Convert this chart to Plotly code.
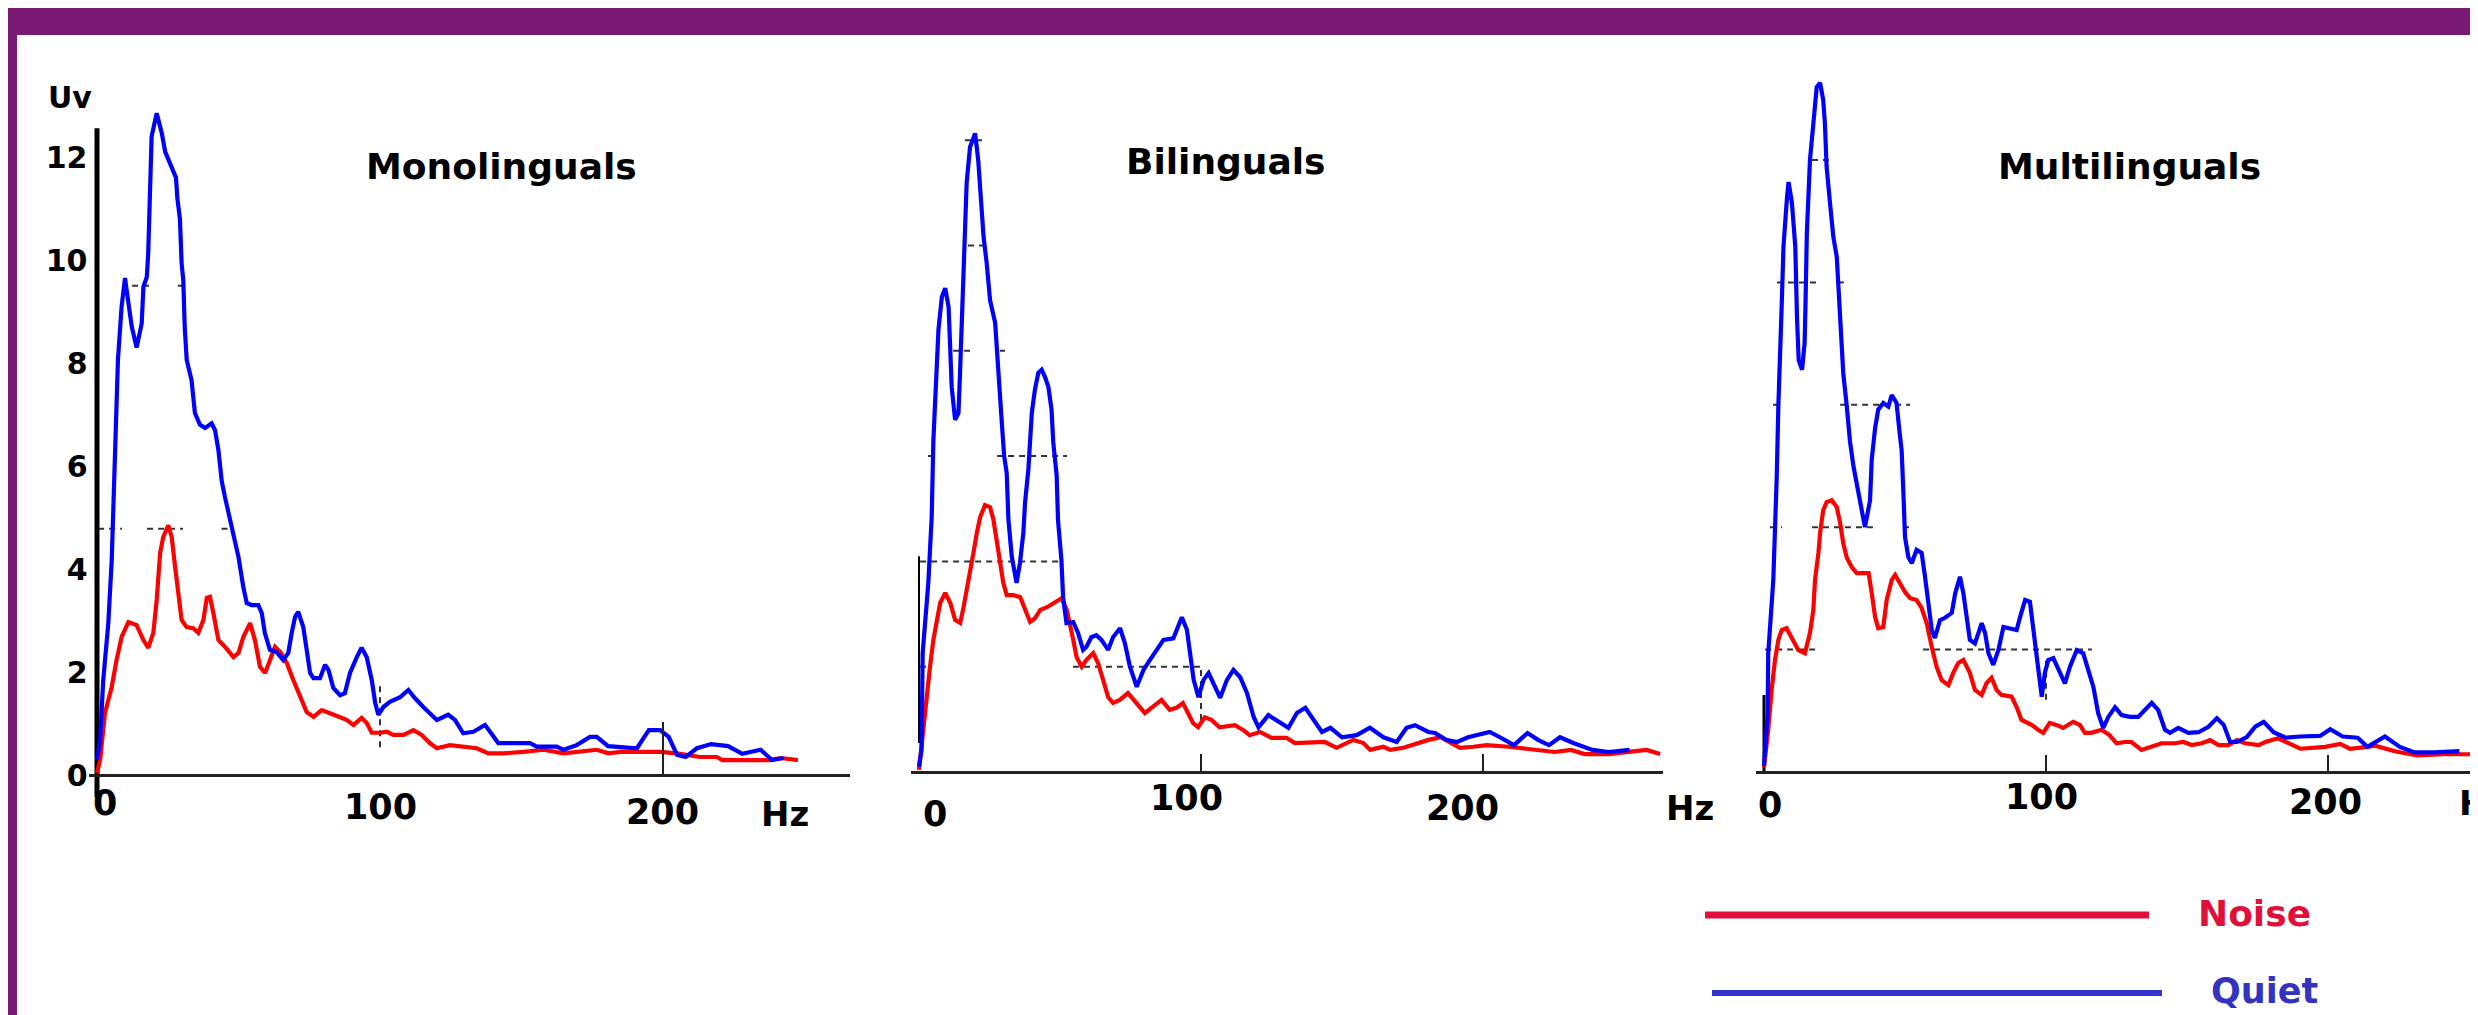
import plotly.graph_objects as go

# ---- data (Hz vs Uv) ----
mono_quiet_hz = [0, 1.1, 2.2, 4.0, 5.2, 6.0, 7.0, 7.4, 8.7, 9.9, 10.3, 12.3, 14.0, 15.8, 16.4, 17.6, 18.1, 18.7,
                 19.3, 21.1, 22.9, 24.1, 26.4, 27.9, 28.4, 29.3, 29.9, 30.5, 31.0, 31.7, 33.4, 34.6, 36.4, 38.2,
                 40.5, 41.7, 42.9, 44.1, 45.2, 46.4, 48.2, 50.0, 51.7, 52.9, 54.6, 57.0, 58.2, 59.3, 61.1, 63.4,
                 65.8, 67.6, 68.8, 70.0, 71.1, 72.9, 74.1, 75.3, 76.5, 78.8, 80.6, 81.8, 83.5, 85.9, 87.6, 89.4,
                 91.8, 93.5, 95.3, 97.1, 98.3, 99.4, 101.2, 103.5, 107.1, 110.0, 112.4, 115.3, 120.1, 124.1,
                 126.5, 129.4, 133.0, 137.1, 138.9, 141.8, 145.9, 153.0, 155.4, 162.4, 164.8, 169.5, 174.2,
                 176.6, 180.6, 190.8, 195.0, 199.0, 202.0, 205.0, 208.0, 212.0, 217.0, 223.0, 228.0, 234.5,
                 238.5, 242.6]
mono_quiet_uv = [0.3, 0.68, 1.84, 2.95, 4.17, 5.5, 7.03, 8.06, 9.1, 9.65, 9.48, 8.7, 8.3, 8.77, 9.48, 9.67, 10.13,
                 11.36, 12.4, 12.85, 12.46, 12.1, 11.8, 11.6, 11.2, 10.8, 9.94, 9.6, 8.7, 8.06, 7.67, 7.03, 6.8,
                 6.74, 6.83, 6.7, 6.31, 5.7, 5.4, 5.09, 4.7, 4.23, 3.65, 3.34, 3.3, 3.3, 3.15, 2.76, 2.43, 2.39,
                 2.23, 2.37, 2.76, 3.07, 3.17, 2.87, 2.43, 1.98, 1.88, 1.88, 2.14, 2.04, 1.69, 1.55, 1.59, 1.98,
                 2.29, 2.47, 2.29, 1.84, 1.4, 1.17, 1.32, 1.42, 1.51, 1.65, 1.49, 1.32, 1.07, 1.17, 1.07, 0.81,
                 0.84, 0.97, 0.84, 0.62, 0.62, 0.62, 0.55, 0.55, 0.49, 0.58, 0.74, 0.74, 0.56, 0.52, 0.87, 0.87,
                 0.74, 0.39, 0.35, 0.52, 0.6, 0.56, 0.41, 0.49, 0.29, 0.33]

mono_noise_hz = [0, 1.1, 2.8, 5.2, 6.9, 8.7, 11.1, 14.0, 16.4, 18.1, 19.9, 21.1, 22.3, 23.4, 25.2, 26.4, 27.6,
                 28.7, 29.9, 31.7, 34.0, 35.8, 37.6, 38.8, 39.9, 41.1, 42.9, 45.2, 48.2, 50.0, 51.7, 54.1, 55.8,
                 57.6, 59.4, 61.1, 62.9, 64.7, 67.1, 69.4, 71.8, 74.1, 76.5, 79.4, 82.3, 85.3, 88.2, 90.6, 93.5,
                 95.3, 97.1, 100.0, 102.4, 104.7, 108.3, 111.8, 114.7, 117.6, 120.1, 124.7, 129.4, 134.2, 138.3,
                 143.6, 150.7, 157.8, 164.8, 169.5, 176.6, 180.7, 185.0, 199.0, 205.0, 213.0, 219.0, 221.0,
                 237.5, 241.6, 247.7]
mono_noise_uv = [0.04, 0.29, 1.2, 1.71, 2.23, 2.68, 2.97, 2.91, 2.62, 2.47, 2.76, 3.4, 4.31, 4.62, 4.85, 4.62, 4.04,
                 3.53, 3.01, 2.87, 2.85, 2.76, 3.01, 3.44, 3.46, 3.15, 2.62, 2.49, 2.29, 2.37, 2.68, 2.95, 2.62,
                 2.1, 1.98, 2.23, 2.49, 2.39, 2.17, 1.84, 1.51, 1.22, 1.13, 1.26, 1.2, 1.13, 1.07, 0.97, 1.11,
                 1.01, 0.82, 0.82, 0.84, 0.78, 0.78, 0.87, 0.78, 0.62, 0.52, 0.58, 0.55, 0.52, 0.42, 0.42, 0.45,
                 0.49, 0.42, 0.45, 0.49, 0.42, 0.45, 0.45, 0.42, 0.35, 0.35, 0.29, 0.29, 0.33, 0.29]

bi_quiet_hz = [0, 0.9, 1.1, 1.3, 3.3, 4.5, 5.1, 6.3, 6.9, 8.1, 9.3, 10.5, 11.1, 11.6, 12.8, 14.0, 14.5, 15.1, 15.7,
               16.9, 18.1, 19.9, 21.0, 21.9, 22.9, 24.0, 25.2, 27.0, 28.1, 29.3, 30.2, 31.1, 31.7, 32.9, 34.6, 35.8,
               37.0, 37.6, 38.8, 40.0, 41.1, 42.3, 43.5, 44.7, 45.9, 47.0, 47.6, 48.8, 49.3, 50.5, 51.1, 52.3,
               54.7, 56.4, 58.2, 59.4, 61.1, 62.9, 64.7, 67.1, 68.8, 71.3, 73.0, 74.8, 77.2, 79.6, 81.9, 84.9,
               86.7, 90.2, 91.4, 93.2, 95.0, 96.2, 97.4, 99.1, 100.9, 102.7, 104.5, 106.8, 109.2, 111.5, 113.9,
               116.3, 118.7, 120.4, 123.9, 127.5, 131.0, 134.0, 137.0, 139.3, 142.9, 145.9, 150.0, 155.2, 159.9,
               164.7, 169.4, 172.9, 175.9, 180.6, 183.0, 186.9, 190.8, 194.7, 202.4, 206.0, 211.0, 215.8, 219.5,
               223.4, 227.3, 232.0, 238.8, 244.6, 252.0]
bi_quiet_uv = [0.1, 0.42, 1.37, 2.26, 3.59, 4.84, 6.3, 7.58, 8.4, 9.02, 9.19, 8.83, 8.2, 7.31, 6.69, 6.82, 7.5, 8.45,
               9.86, 11.19, 11.87, 12.13, 11.62, 10.86, 10.16, 9.67, 8.96, 8.53, 7.5, 6.69, 6.0, 5.68, 4.8, 4.09,
               3.59, 3.97, 4.54, 5.11, 5.76, 6.82, 7.26, 7.58, 7.64, 7.5, 7.31, 6.88, 6.27, 5.64, 4.78, 4.03, 3.32,
               2.83, 2.85, 2.64, 2.32, 2.38, 2.56, 2.6, 2.51, 2.32, 2.56, 2.73, 2.45, 2.0, 1.62, 1.94, 2.13, 2.38,
               2.51, 2.54, 2.7, 2.94, 2.7, 2.26, 1.75, 1.42, 1.75, 1.88, 1.69, 1.41, 1.75, 1.94, 1.8, 1.5, 1.04,
               0.85, 1.08, 0.95, 0.84, 1.12, 1.22, 1.04, 0.76, 0.84, 0.66, 0.7, 0.84, 0.66, 0.57, 0.84, 0.89, 0.76,
               0.74, 0.61, 0.57, 0.66, 0.76, 0.66, 0.51, 0.74, 0.61, 0.51, 0.66, 0.55, 0.42, 0.38, 0.42]

bi_noise_hz = [0, 1.1, 2.7, 3.9, 5.1, 6.3, 7.5, 9.3, 11.1, 12.8, 14.6, 15.8, 17.0, 18.1, 19.3, 20.5, 21.7, 23.4,
               25.2, 26.4, 27.6, 28.8, 29.9, 31.1, 33.5, 35.9, 37.6, 39.4, 41.1, 43.0, 45.4, 47.7, 50.6, 52.4, 53.5,
               54.7, 55.9, 57.7, 59.4, 61.8, 63.5, 65.3, 67.1, 68.8, 71.2, 74.1, 77.1, 80.1, 83.0, 86.0, 88.9,
               91.3, 93.6, 95.4, 97.2, 99.0, 101.3, 103.7, 106.6, 112.0, 114.9, 117.3, 120.9, 125.0, 130.3, 133.3,
               139.8, 143.9, 148.1, 154.0, 157.6, 160.0, 164.7, 167.1, 171.8, 176.6, 180.7, 185.0, 188.9, 191.8,
               196.6, 201.4, 209.0, 217.7, 225.4, 231.2, 236.0, 244.6, 253.2, 258.0, 262.8]
bi_noise_uv = [0.04, 0.61, 1.5, 2.0, 2.51, 2.83, 3.21, 3.4, 3.21, 2.89, 2.83, 3.13, 3.46, 3.78, 4.16, 4.54, 4.84,
               5.07, 5.03, 4.79, 4.41, 3.97, 3.59, 3.36, 3.36, 3.32, 3.11, 2.85, 2.92, 3.08, 3.13, 3.21, 3.3, 3.08,
               2.83, 2.51, 2.18, 2.0, 2.13, 2.26, 2.07, 1.75, 1.42, 1.31, 1.37, 1.5, 1.31, 1.12, 1.24, 1.37, 1.18,
               1.22, 1.31, 1.12, 0.93, 0.85, 1.04, 0.99, 0.85, 0.89, 0.8, 0.7, 0.76, 0.65, 0.65, 0.55, 0.55, 0.57,
               0.46, 0.61, 0.55, 0.42, 0.48, 0.42, 0.46, 0.55, 0.61, 0.66, 0.55, 0.46, 0.48, 0.51, 0.48, 0.42,
               0.38, 0.42, 0.34, 0.34, 0.38, 0.42, 0.34]

multi_quiet_hz = [0, 0.4, 1.3, 1.5, 3.3, 4.5, 5.1, 6.3, 6.9, 8.1, 8.7, 9.9, 11.1, 11.7, 12.3, 13.5, 14.4, 14.7,
                  15.2, 16.3, 17.5, 18.7, 19.9, 21.0, 21.6, 22.2, 23.4, 24.6, 25.8, 26.95, 28.1, 29.3, 30.5, 31.7,
                  32.9, 34.6, 35.8, 37.6, 38.2, 39.4, 40.5, 42.3, 44.1, 45.3, 47.0, 48.2, 48.8, 49.4, 50.0, 51.2,
                  52.4, 54.1, 55.9, 57.1, 58.3, 59.5, 60.6, 62.4, 64.2, 66.6, 67.8, 69.5, 70.7, 71.9, 73.0, 74.8,
                  77.2, 78.4, 79.6, 81.3, 83.1, 84.9, 87.2, 89.6, 90.8, 92.6, 94.3, 95.5, 96.7, 97.9, 98.5, 99.6,
                  100.8, 102.6, 104.4, 106.7, 108.5, 110.9, 113.2, 115.0, 116.8, 118.5, 120.3, 122.1, 124.5, 126.8,
                  129.8, 132.7, 135.1, 137.5, 139.8, 142.2, 144.0, 146.9, 150.5, 154.1, 157.6, 160.6, 163.0, 165.3,
                  167.7, 171.2, 174.2, 177.2, 180.7, 185.0, 190.2, 197.2, 200.8, 205.2, 210.5, 214.0, 220.2, 225.5,
                  230.7, 237.8, 246.6]
multi_quiet_uv = [0.1, 0.36, 0.96, 1.94, 3.14, 4.8, 6.0, 7.66, 8.58, 9.35, 9.64, 9.3, 8.58, 7.43, 6.73, 6.57, 7.01,
                  7.6, 8.81, 10.0, 10.7, 11.19, 11.26, 10.98, 10.6, 9.89, 9.3, 8.74, 8.42, 7.34, 6.52, 6.0, 5.4,
                  5.0, 4.7, 4.28, 4.0, 4.44, 5.1, 5.62, 5.92, 6.03, 5.97, 6.16, 6.03, 5.5, 5.26, 4.6, 3.84, 3.51,
                  3.41, 3.63, 3.58, 3.19, 2.7, 2.32, 2.19, 2.48, 2.52, 2.6, 2.92, 3.19, 2.92, 2.48, 2.16, 2.1, 2.43,
                  2.27, 1.94, 1.75, 1.99, 2.37, 2.35, 2.32, 2.53, 2.81, 2.78, 2.37, 1.94, 1.55, 1.23, 1.62, 1.83,
                  1.86, 1.67, 1.45, 1.72, 1.99, 1.94, 1.67, 1.39, 0.96, 0.72, 0.9, 1.06, 0.93, 0.9, 0.9, 1.01, 1.13,
                  1.01, 0.69, 0.64, 0.72, 0.64, 0.65, 0.74, 0.88, 0.77, 0.49, 0.49, 0.57, 0.74, 0.82, 0.65, 0.56,
                  0.58, 0.59, 0.7, 0.58, 0.56, 0.41, 0.58, 0.41, 0.32, 0.32, 0.34]

multi_noise_hz = [0, 1.5, 2.7, 3.9, 5.1, 6.3, 8.0, 9.8, 12.2, 14.5, 16.3, 17.5, 18.1, 19.3, 19.9, 21.0, 22.2, 24.0,
                  25.8, 27.0, 28.1, 29.3, 31.1, 32.9, 35.3, 37.1, 38.2, 39.4, 40.5, 42.3, 43.5, 45.3, 46.5, 48.2,
                  50.0, 51.8, 54.1, 55.9, 57.7, 59.5, 61.2, 63.0, 65.4, 67.1, 68.9, 70.7, 73.0, 74.8, 77.2, 78.9,
                  80.7, 82.5, 84.2, 87.8, 89.6, 91.3, 94.9, 97.2, 99.0, 101.3, 103.7, 106.1, 109.6, 112.0, 113.8,
                  116.1, 119.7, 122.6, 125.0, 128.0, 130.3, 133.9, 137.5, 141.0, 145.7, 148.7, 151.7, 155.2, 158.2,
                  161.2, 164.7, 167.7, 170.6, 175.4, 177.8, 182.3, 190.2, 199.0, 204.3, 207.8, 214.0, 216.7, 223.7,
                  231.6, 241.1, 253.2]
multi_noise_uv = [0.08, 0.69, 1.34, 1.83, 2.16, 2.32, 2.35, 2.21, 1.99, 1.94, 2.27, 2.65, 3.14, 3.58, 3.91, 4.28,
                  4.41, 4.44, 4.33, 4.07, 3.74, 3.51, 3.35, 3.25, 3.25, 3.25, 2.92, 2.53, 2.35, 2.37, 2.81, 3.14,
                  3.22, 3.09, 2.94, 2.84, 2.81, 2.68, 2.43, 2.04, 1.72, 1.5, 1.42, 1.62, 1.78, 1.83, 1.62, 1.34,
                  1.26, 1.45, 1.54, 1.34, 1.26, 1.23, 1.06, 0.85, 0.77, 0.69, 0.64, 0.8, 0.77, 0.72, 0.82, 0.77,
                  0.64, 0.64, 0.69, 0.6, 0.47, 0.49, 0.49, 0.36, 0.41, 0.47, 0.47, 0.49, 0.44, 0.47, 0.52, 0.44,
                  0.44, 0.52, 0.47, 0.44, 0.49, 0.55, 0.38, 0.41, 0.46, 0.38, 0.41, 0.43, 0.34, 0.27, 0.29, 0.29]

panel_titles = ["Monolinguals", "Bilinguals", "Multilinguals"]
mono_ticks_uv = [0, 2, 4, 6, 8, 10, 12]
hz_tick_labels = ["0", "100", "200", "Hz"]

# dashed guide fragments left in the picture: (level, hz from, hz to)
mono_guides = [(9.5, 12.4, 18.4), (9.5, 28.6, 30.7), (4.78, 0.4, 8.8), (4.78, 17.7, 30.4), (4.78, 44, 48)]
bi_guides = [(12, 16.3, 22.7), (10, 17.4, 24.1), (8, 12.1, 18.1), (8, 28.7, 30.5), (6, 3.2, 6.4), (6, 27.7, 52.5),
             (4, 0.4, 51), (2, 0.4, 3.9), (2, 54.6, 101.4)]
multi_guides = [(10, 17, 24), (8, 4.6, 18.8), (8, 26.2, 29.8), (6, 3.2, 6.4), (6, 27, 51.8), (4, 2.1, 6.4),
                (4, 17, 40.4), (4, 49.3, 51.8), (2, 0.4, 18.8), (2, 56.4, 116.3)]
# short dashed marks at 100 Hz: (low, high)
mono_mark100 = (0.54, 1.79)
bi_mark100 = (0.99, 1.94)
multi_mark100 = (1.18, 1.83)

# ---- layout helpers (pixel geometry of the pasted panels) ----
W, H = 2478, 1015
DX, DY = 8, 8  # the page draws the figure offset by this much
PURPLE = "#7a1a75"
FONT = "DejaVu Sans"


def fx(px):
    return (px - DX) / W


def fy(py):
    return 1 - (py - DY) / H


panels = [
    # x0 px, px per Hz, hz range, y0 px, px per Uv, uv range, tick marks, hand placed tick labels
    dict(x0=97, hzpx=2.83, xr=[-3, 266], y0=775, upx=51.5, yr=[-0.6, 13.5],
         ticks=[200], ticklen=52,
         labels=[(105, 803), (380, 807), (662, 812), (785, 814)],
         quiet=(mono_quiet_hz, mono_quiet_uv), noise=(mono_noise_hz, mono_noise_uv),
         guides=mono_guides, mark=mono_mark100),
    dict(x0=919, hzpx=2.82, xr=[-3, 264], y0=772, upx=52.65, yr=[-0.6, 13.2],
         ticks=[100, 200], ticklen=17,
         labels=[(935, 814), (1186, 798), (1462, 808), (1690, 808)],
         quiet=(bi_quiet_hz, bi_quiet_uv), noise=(bi_noise_hz, bi_noise_uv),
         guides=bi_guides, mark=bi_mark100),
    dict(x0=1764, hzpx=2.82, xr=[-3, 253.2], y0=772, upx=61.2, yr=[-0.5, 11.4],
         ticks=[100, 200], ticklen=16,
         labels=[(1770, 805), (2041, 797), (2325, 802), (2483, 803)],
         quiet=(multi_quiet_hz, multi_quiet_uv), noise=(multi_noise_hz, multi_noise_uv),
         guides=multi_guides, mark=multi_mark100),
]

fig = go.Figure()
layout = {}
annotations = []

for i, p in enumerate(panels):
    n = "" if i == 0 else str(i + 1)
    xa, ya = "x" + n, "y" + n

    # dashed guide fragments
    gx, gy = [], []
    for lvl, a, b in p["guides"]:
        gx += [a, b, None]
        gy += [lvl, lvl, None]
    gx += [100, 100, None]
    gy += [p["mark"][0], p["mark"][1], None]
    fig.add_trace(go.Scatter(x=gx, y=gy, xaxis=xa, yaxis=ya, mode="lines", showlegend=False,
                             line=dict(color="#333333", width=2, dash="6px,5px"), hoverinfo="skip"))

    # vertical axis line / stub
    if i == 0:
        vy = [-0.43, 12.56]
        vw = 5
    elif i == 1:
        vy = [0.55, 4.1]
        vw = 2
    else:
        vy = [0, 1.26]
        vw = 3
    fig.add_trace(go.Scatter(x=[0, 0], y=vy, xaxis=xa, yaxis=ya, mode="lines", showlegend=False,
                             line=dict(color="black", width=vw), hoverinfo="skip"))

    fig.add_trace(go.Scatter(x=p["noise"][0], y=p["noise"][1], xaxis=xa, yaxis=ya, mode="lines",
                             name="Noise", showlegend=False, line=dict(color="#ff0000", width=4.2)))
    fig.add_trace(go.Scatter(x=p["quiet"][0], y=p["quiet"][1], xaxis=xa, yaxis=ya, mode="lines",
                             name="Quiet", showlegend=False, line=dict(color="#0000ff", width=4.2)))

    left = p["x0"] + p["xr"][0] * p["hzpx"]
    right = p["x0"] + p["xr"][1] * p["hzpx"]
    bottom = p["y0"] - p["yr"][0] * p["upx"]
    top = p["y0"] - p["yr"][1] * p["upx"]

    layout["xaxis" + n] = dict(
        domain=[fx(left), min(fx(right), 1.0)], range=p["xr"], anchor="free", position=fy(p["y0"]),
        automargin=False,
        showline=True, linecolor="#222222", linewidth=3, showgrid=False, zeroline=False,
        ticks="inside", ticklen=p["ticklen"], tickwidth=2, tickcolor="#222222",
        tickvals=p["ticks"], showticklabels=False,
    )
    ydict = dict(domain=[fy(bottom), fy(top)], range=p["yr"], anchor=xa, showgrid=False,
                 zeroline=False, showline=False, automargin=False)
    if i == 0:
        ydict.update(tickvals=mono_ticks_uv, ticktext=[str(v) for v in mono_ticks_uv], ticks="",
                     tickfont=dict(family=FONT, size=30, color="black", weight="bold"))
    else:
        ydict.update(showticklabels=False, ticks="")
    layout["yaxis" + n] = ydict

    # x tick labels of the picture sit a little off their ticks, so they are placed by hand
    for txt, (lx, ly) in zip(hz_tick_labels, p["labels"]):
        annotations.append(dict(text=txt, x=fx(lx), y=fy(ly), font=dict(size=35 if txt != "Hz" else 34)))

# panel 3 is cut at the right edge of the picture, so its range ends where the page ends
layout["xaxis3"]["range"] = [-3, (W + DX - 1764) / 2.82]
layout["xaxis3"]["domain"] = [fx(1764 - 3 * 2.82), 1.0]

annotations += [
    dict(text="Uv", x=fx(70), y=fy(97), font=dict(size=30)),
    dict(text=panel_titles[0], x=fx(501), y=fy(167), font=dict(size=36)),
    dict(text=panel_titles[1], x=fx(1226), y=fy(161), font=dict(size=36)),
    dict(text=panel_titles[2], x=fx(2129), y=fy(166), font=dict(size=36)),
    dict(text="Noise", x=fx(2254), y=fy(913), font=dict(size=36, color="#e0103a")),
    dict(text="Quiet", x=fx(2264), y=fy(991), font=dict(size=35, color="#3333c0")),
]
for a in annotations:
    a.update(xref="paper", yref="paper", showarrow=False, xanchor="center", yanchor="middle")
    a["font"] = dict(family=FONT, weight="bold", color=a["font"].get("color", "black"), size=a["font"]["size"])

shapes = [
    # purple frame of the slide: top band and left strip
    dict(type="rect", xref="paper", yref="paper", x0=-0.5, x1=1.5, y0=fy(35), y1=1.5,
         fillcolor=PURPLE, line=dict(width=0), layer="below"),
    dict(type="rect", xref="paper", yref="paper", x0=-0.5, x1=fx(17), y0=-0.5, y1=1.5,
         fillcolor=PURPLE, line=dict(width=0), layer="below"),
    dict(type="line", xref="paper", yref="paper", x0=fx(1705), x1=fx(2149), y0=fy(915), y1=fy(915),
         line=dict(color="#e0103a", width=7)),
    dict(type="line", xref="paper", yref="paper", x0=fx(1712), x1=fx(2162), y0=fy(993), y1=fy(993),
         line=dict(color="#3333d0", width=6)),
]

fig.update_layout(
    template="none",
    width=W, height=H, margin=dict(l=0, r=0, t=0, b=0, pad=0, autoexpand=False),
    paper_bgcolor="white", plot_bgcolor="rgba(0,0,0,0)",
    showlegend=False, annotations=annotations, shapes=shapes,
    font=dict(family=FONT),
    **layout,
)

fig.write_html("out.html")
